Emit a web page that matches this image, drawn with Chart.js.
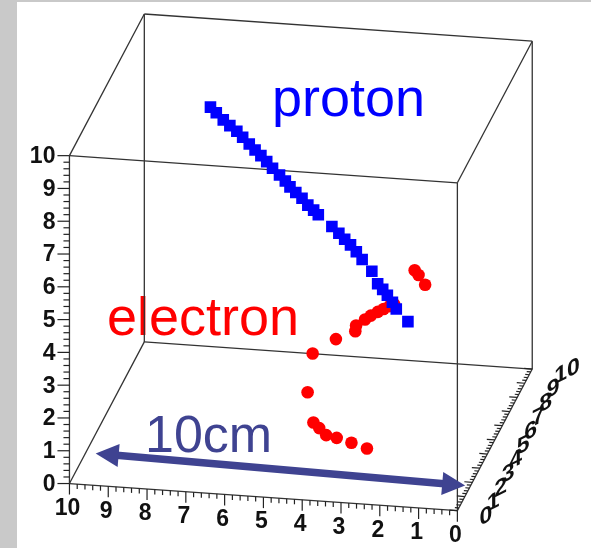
<!DOCTYPE html>
<html>
<head>
<meta charset="utf-8">
<script src="https://cdn.jsdelivr.net/npm/chart.js@4.4.1/dist/chart.umd.min.js"></script>
<style>
  html, body { margin: 0; padding: 0; background: #fff; }
  #c { display: block; }
</style>
</head>
<body>
<canvas id="c" width="591" height="548"></canvas>
<script>
// track hits, in axis units (x along the front axis, z vertical); depth fixed per track
const protonDepth = 5;
const protonX = [7.33, 7.18, 7.00, 6.83, 6.65, 6.50, 6.33, 6.18, 6.03, 5.88, 5.73, 5.55, 5.40, 5.28, 5.13, 4.97,
  4.82, 4.67, 4.55, 4.20, 4.02, 3.87, 3.72, 3.57, 3.42, 3.17, 3.02, 2.89, 2.77, 2.64, 2.54, 2.24];
const protonZ = [9.54, 9.38, 9.18, 9.02, 8.86, 8.69, 8.50, 8.33, 8.17, 8.00, 7.81, 7.62, 7.45, 7.28, 7.12, 6.96,
  6.76, 6.62, 6.49, 6.16, 5.97, 5.80, 5.64, 5.44, 5.22, 4.88, 4.51, 4.35, 4.18, 3.98, 3.78, 3.42];

const electronDepth = 3;
const electronX = [1.68, 1.58, 1.41, 2.21, 2.33, 2.48, 2.63, 2.81, 2.96, 3.19, 3.21, 3.71, 4.31,
  4.44, 4.29, 4.14, 3.96, 3.69, 3.31, 2.91];
const electronZ = [5.90, 5.76, 5.48, 4.82, 4.75, 4.65, 4.55, 4.42, 4.29, 4.09, 3.91, 3.63, 3.14,
  1.95, 1.04, 0.88, 0.68, 0.62, 0.50, 0.36];

const tickLabels = ['0', '1', '2', '3', '4', '5', '6', '7', '8', '9', '10'];
const axisMax = 10;

// oblique view of the box
function project(x, y, z) {
  return { x: 462 - 39.9 * x + 7.7 * y, y: 518 - 2.8 * x - 14.6 * y - 33.8 * z };
}

const protonPts = protonX.map((v, i) => project(v, protonDepth, protonZ[i]));
const electronPts = electronX.map((v, i) => project(v, electronDepth, electronZ[i]));

const FONT = '"Liberation Sans", Arial, sans-serif';

const boxPlugin = {
  id: 'box3d',
  beforeDraw(chart) {
    const ctx = chart.ctx;
    ctx.save();
    ctx.fillStyle = '#ffffff';
    ctx.fillRect(0, 0, chart.width, chart.height);
    ctx.fillStyle = '#c9c9c9';
    ctx.fillRect(0, 0, 17, chart.height);
    ctx.fillRect(0, 0, chart.width, 2);
    ctx.restore();
  },
  beforeDatasetsDraw(chart) {
    const ctx = chart.ctx;
    const sx = chart.scales.x, sy = chart.scales.y;
    const P = (x, y, z) => { const p = project(x, y, z); return [sx.getPixelForValue(p.x), sy.getPixelForValue(p.y)]; };
    ctx.save();

    // labels
    ctx.textBaseline = 'alphabetic';
    ctx.textAlign = 'left';
    ctx.font = '54px ' + FONT;
    ctx.fillStyle = '#0000ff';
    ctx.fillText('proton', 272, 116);
    ctx.fillStyle = '#ff0000';
    ctx.fillText('electron', 107, 335);
    ctx.font = '52px ' + FONT;
    ctx.fillStyle = '#3f4391';
    ctx.fillText('10cm', 145, 452);

    // box edges
    ctx.strokeStyle = '#333333';
    ctx.lineWidth = 1.3;
    const m = axisMax;
    const edges = [
      [[0,0,0],[m,0,0]], [[0,0,m],[m,0,m]], [[0,m,0],[m,m,0]], [[0,m,m],[m,m,m]],
      [[0,0,0],[0,m,0]], [[m,0,0],[m,m,0]], [[0,0,m],[0,m,m]], [[m,0,m],[m,m,m]],
      [[0,0,0],[0,0,m]], [[m,0,0],[m,0,m]], [[0,m,0],[0,m,m]], [[m,m,0],[m,m,m]]
    ];
    edges.forEach(([a, b]) => {
      const p = P(...a), q = P(...b);
      ctx.beginPath(); ctx.moveTo(p[0], p[1]); ctx.lineTo(q[0], q[1]); ctx.stroke();
    });

    // axes ticks
    ctx.strokeStyle = '#222222';
    ctx.lineWidth = 1.2;
    ctx.fillStyle = '#111111';
    ctx.font = 'bold 23px ' + FONT;
    const sub = 5;
    for (let i = 0; i <= m * sub; i++) {
      const v = i / sub, major = i % sub === 0;
      // vertical axis (front left edge)
      let p = P(m, 0, v);
      ctx.beginPath(); ctx.moveTo(p[0], p[1]); ctx.lineTo(p[0] - (major ? 12 : 6), p[1]); ctx.stroke();
      // front axis
      p = P(v, 0, 0);
      ctx.beginPath(); ctx.moveTo(p[0], p[1]); ctx.lineTo(p[0], p[1] + (major ? 11 : 5)); ctx.stroke();
      // depth axis
      p = P(0, v, 0);
      ctx.beginPath(); ctx.moveTo(p[0], p[1]); ctx.lineTo(p[0] - (major ? 8 : 4), p[1] - (major ? 0.6 : 0.3)); ctx.stroke();
    }
    tickLabels.forEach((t, k) => {
      let p = P(m, 0, k);
      ctx.textAlign = 'right'; ctx.textBaseline = 'middle';
      ctx.fillText(t, p[0] - 14, p[1] + 1);
      p = P(k, 0, 0);
      ctx.textAlign = 'center';
      ctx.fillText(t, p[0] - 2, p[1] + 25);
      p = P(0, k, 0);
      ctx.save();
      ctx.translate(p[0] + 22, p[1] + 9);
      ctx.transform(1, -0.5, 0, 1, 0, 0);
      ctx.textAlign = 'left';
      ctx.fillText(t, 0, 0);
      ctx.restore();
    });

    // 10cm arrow
    const a = [sx.getPixelForValue(90), sy.getPixelForValue(459)];
    const b = [sx.getPixelForValue(470), sy.getPixelForValue(492)];
    const ang = Math.atan2(b[1] - a[1], b[0] - a[0]);
    const head = 23, hw = 11.5;
    ctx.strokeStyle = '#3f4391';
    ctx.fillStyle = '#3f4391';
    ctx.lineWidth = 7.5;
    ctx.beginPath();
    ctx.moveTo(a[0] + Math.cos(ang) * (head - 2), a[1] + Math.sin(ang) * (head - 2));
    ctx.lineTo(b[0] - Math.cos(ang) * (head - 2), b[1] - Math.sin(ang) * (head - 2));
    ctx.stroke();
    [[a, ang], [b, ang + Math.PI]].forEach(([tip, d]) => {
      const bx = tip[0] + Math.cos(d) * head, by = tip[1] + Math.sin(d) * head;
      ctx.beginPath();
      ctx.moveTo(tip[0], tip[1]);
      ctx.lineTo(bx - Math.sin(d) * hw, by + Math.cos(d) * hw);
      ctx.lineTo(bx + Math.sin(d) * hw, by - Math.cos(d) * hw);
      ctx.closePath();
      ctx.fill();
    });
    ctx.restore();
  }
};

new Chart(document.getElementById('c'), {
  type: 'scatter',
  data: {
    datasets: [
      { label: 'proton', data: protonPts, pointStyle: 'rect', pointRadius: 8.2, borderWidth: 0,
        backgroundColor: '#0000ff', borderColor: '#0000ff' },
      { label: 'electron', data: electronPts, pointStyle: 'circle', pointRadius: 6.3, borderWidth: 0,
        backgroundColor: '#ff0000', borderColor: '#ff0000' }
    ]
  },
  options: {
    responsive: false,
    animation: false,
    devicePixelRatio: 1,
    layout: { padding: 0 },
    plugins: { legend: { display: false }, tooltip: { enabled: false } },
    scales: {
      x: { type: 'linear', min: 0, max: 591, display: false },
      y: { type: 'linear', min: 0, max: 548, reverse: true, display: false }
    }
  },
  plugins: [boxPlugin]
});
</script>
</body>
</html>
